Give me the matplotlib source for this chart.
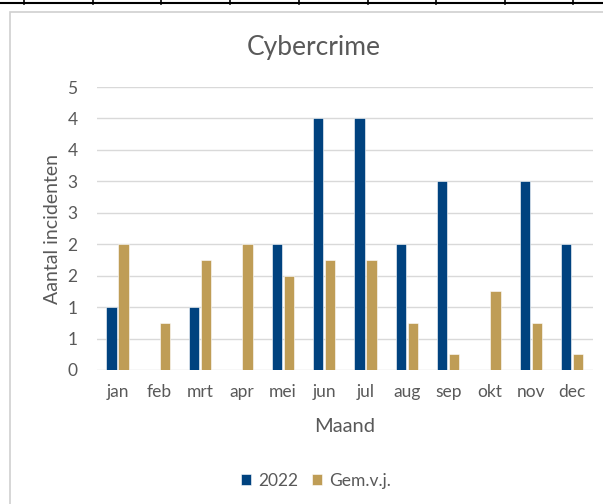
import numpy as np
import matplotlib
matplotlib.use('Agg')
import matplotlib.pyplot as plt
from matplotlib.lines import Line2D
from matplotlib.patches import Rectangle

plt.rcParams['font.family'] = ['Lato', 'DejaVu Sans']

# data
months = ['jan', 'feb', 'mrt', 'apr', 'mei', 'jun', 'jul', 'aug', 'sep', 'okt', 'nov', 'dec']
y2022 = [1, 0, 1, 0, 2, 4, 4, 2, 3, 0, 3, 2]
gemvj = [2.0, 0.75, 1.75, 2.0, 1.5, 1.75, 1.75, 0.75, 0.25, 1.25, 0.75, 0.25]
yticks = [0, 0.5, 1, 1.5, 2, 2.5, 3, 3.5, 4, 4.5]
ytick_labels = ['0', '1', '1', '2', '2', '3', '3', '4', '4', '5']

blue = '#00427F'
gold = '#BF9D56'
grey = '#595959'

W, H = 603, 504
fig = plt.figure(figsize=(W / 100, H / 100), dpi=100)

# spreadsheet cell lines behind the chart
fig.add_artist(Line2D([0, 1], [1 - 3 / H, 1 - 3 / H], color='black', lw=1.5))
for xc in [24, 93, 161, 230, 299, 368, 436, 505, 573]:
    fig.add_artist(Line2D([xc / W, xc / W], [1, 1 - 4 / H], color='black', lw=1.2))
# chart border
fig.add_artist(Rectangle((9.5 / W, -0.1), 1.2, 1.1 - 12 / H, transform=fig.transFigure,
                         fill=False, edgecolor='#D0D0D0', lw=1.2))

ax = fig.add_axes([97 / W, 134 / H, 496 / W, 283 / H])
x = np.arange(len(months))
bw = 0.25
ax.bar(x - 0.15, y2022, bw, color=blue, edgecolor='white', linewidth=0.4, label='2022', zorder=3)
ax.bar(x + 0.14, gemvj, bw, color=gold, edgecolor='white', linewidth=0.4, label='Gem.v.j.', zorder=3)

ax.set_xlim(-0.5, len(months) - 0.5)
ax.set_ylim(0, 4.5)
ax.set_yticks(yticks)
ax.set_yticklabels(ytick_labels)
ax.set_xticks(x)
ax.set_xticklabels(months)
ax.tick_params(axis='both', length=0, labelsize=12.5, labelcolor=grey)
ax.tick_params(axis='y', pad=14)
ax.tick_params(axis='x', pad=10)
ax.grid(axis='y', color='#D9D9D9', lw=1, zorder=0)
for s in ax.spines.values():
    s.set_visible(False)

ax.set_ylabel('Aantal incidenten', fontsize=14, color=grey, va='center')
ax.yaxis.set_label_coords((53 - 97) / 496, 0.5)
ax.set_xlabel('Maand', fontsize=14.5, color=grey, va='center')
ax.xaxis.set_label_coords(0.5, (370 - 426) / 283)
fig.text(314 / W, 1 - 47 / H, 'Cybercrime', ha='center', va='center', fontsize=19, color=grey)

fig.legend(loc='center', bbox_to_anchor=(316 / W, 1 - 481 / H), ncol=2, frameon=False,
           fontsize=12.5, labelcolor=grey, handlelength=0.6, handleheight=0.6,
           handletextpad=0.4, columnspacing=0.8)

fig.savefig('out.png', dpi=100, facecolor='white')
